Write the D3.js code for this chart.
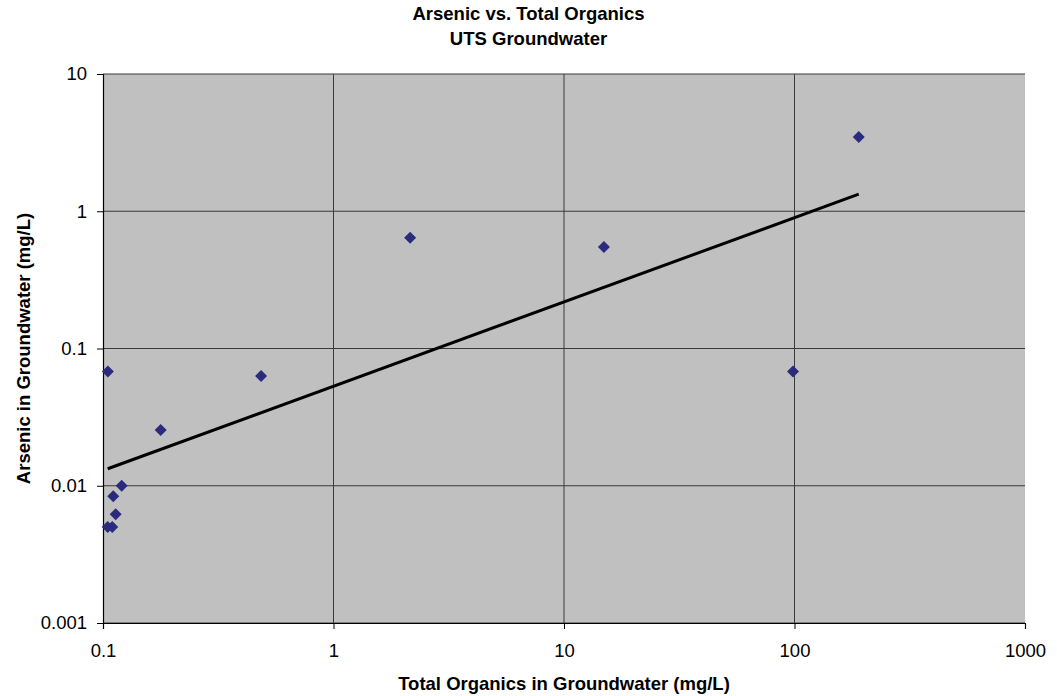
<!DOCTYPE html>
<html>
<head>
<meta charset="utf-8">
<script src="https://cdn.jsdelivr.net/npm/d3@7"></script>
<style>
  body { margin: 0; background: #fff; }
  text { font-family: Arial, "Liberation Sans", sans-serif; fill: #000; }
</style>
</head>
<body>
<div id="chart"></div>
<script>
// total organics (mg/L) vs arsenic (mg/L)
var organics = [0.105, 0.178, 0.485, 2.15, 14.9, 98.5, 190, 0.1205, 0.1108, 0.1135, 0.1048, 0.1097];
var arsenic  = [0.068, 0.0255, 0.063, 0.64, 0.55, 0.068, 3.48, 0.01, 0.0084, 0.0062, 0.005, 0.005];
var xTicks = [0.1, 1, 10, 100, 1000];
var yTicks = [0.001, 0.01, 0.1, 1, 10];

var W = 1057, H = 696,
    margin = {top: 74, right: 32, bottom: 73, left: 103},
    width = W - margin.left - margin.right,
    height = H - margin.top - margin.bottom;

var svg = d3.select("#chart").append("svg")
    .attr("width", W)
    .attr("height", H);

var g = svg.append("g")
    .attr("transform", "translate(" + margin.left + "," + margin.top + ")");

var x = d3.scaleLog().domain([0.1, 1000]).range([0, width]);
var y = d3.scaleLog().domain([0.001, 10]).range([height, 0]);

g.append("rect")
  .attr("width", width)
  .attr("height", height)
  .attr("fill", "#c0c0c0");

// gridlines
g.selectAll("line.hgrid")
  .data(yTicks)
  .enter().append("line")
    .attr("class", "hgrid")
    .attr("x1", 0).attr("x2", width)
    .attr("y1", function (d) { return y(d); })
    .attr("y2", function (d) { return y(d); })
    .style("stroke", "#3a3a3a")
    .style("stroke-width", 1);

g.selectAll("line.vgrid")
  .data(xTicks.slice(1, -1))
  .enter().append("line")
    .attr("class", "vgrid")
    .attr("y1", 0).attr("y2", height)
    .attr("x1", function (d) { return x(d); })
    .attr("x2", function (d) { return x(d); })
    .style("stroke", "#3a3a3a")
    .style("stroke-width", 1);

// axes
var xAxis = g.append("g")
  .attr("transform", "translate(0," + height + ")")
  .call(d3.axisBottom(x).tickValues(xTicks).tickSize(6).tickPadding(10)
        .tickFormat(function (d) { return String(d); }));

var yAxis = g.append("g")
  .call(d3.axisLeft(y).tickValues(yTicks).tickSize(6).tickPadding(10)
        .tickFormat(function (d) { return String(d); }));

[xAxis, yAxis].forEach(function (a) {
  a.select(".domain").attr("stroke", "#000").attr("stroke-width", 1.2);
  a.selectAll(".tick line").attr("stroke", "#000");
  a.selectAll(".tick text")
    .attr("font-family", "Arial, 'Liberation Sans', sans-serif")
    .attr("font-size", "18.5px")
    .attr("fill", "#000");
});
xAxis.selectAll(".tick text").attr("dy", "0.95em");

// power trendline (least squares in log-log space)
var lx = organics.map(Math.log10), ly = arsenic.map(Math.log10);
var mx = d3.mean(lx), my = d3.mean(ly);
var slope = d3.sum(lx, function (d, i) { return (d - mx) * (ly[i] - my); }) /
            d3.sum(lx, function (d) { return (d - mx) * (d - mx); });
var icpt = my - slope * mx;
var ext = d3.extent(organics);
var trend = ext.map(function (v) { return [v, Math.pow(10, icpt + slope * Math.log10(v))]; });

g.append("path")
  .datum(trend)
  .attr("d", d3.line()
    .x(function (d) { return x(d[0]); })
    .y(function (d) { return y(d[1]); }))
  .style("stroke", "#000")
  .style("stroke-width", 3)
  .style("fill", "none");

// points
g.selectAll("path.pt")
  .data(organics)
  .enter().append("path")
    .attr("class", "pt")
    .attr("d", d3.symbol().type(d3.symbolDiamond2).size(92))
    .attr("transform", function (d, i) { return "translate(" + x(d) + "," + y(arsenic[i]) + ")"; })
    .attr("fill", "#2b2b7e");

// titles
svg.append("text")
  .attr("x", W / 2).attr("y", 20)
  .attr("text-anchor", "middle")
  .attr("font-size", "18.5px").attr("font-weight", "bold")
  .text("Arsenic vs. Total Organics");

svg.append("text")
  .attr("x", W / 2).attr("y", 45)
  .attr("text-anchor", "middle")
  .attr("font-size", "18.5px").attr("font-weight", "bold")
  .text("UTS Groundwater");

svg.append("text")
  .attr("x", margin.left + width / 2).attr("y", 690)
  .attr("text-anchor", "middle")
  .attr("font-size", "18.5px").attr("font-weight", "bold")
  .text("Total Organics in Groundwater (mg/L)");

svg.append("text")
  .attr("transform", "translate(30," + (margin.top + height / 2) + ") rotate(-90)")
  .attr("text-anchor", "middle")
  .attr("font-size", "18.5px").attr("font-weight", "bold")
  .text("Arsenic in Groundwater (mg/L)");
</script>
</body>
</html>
